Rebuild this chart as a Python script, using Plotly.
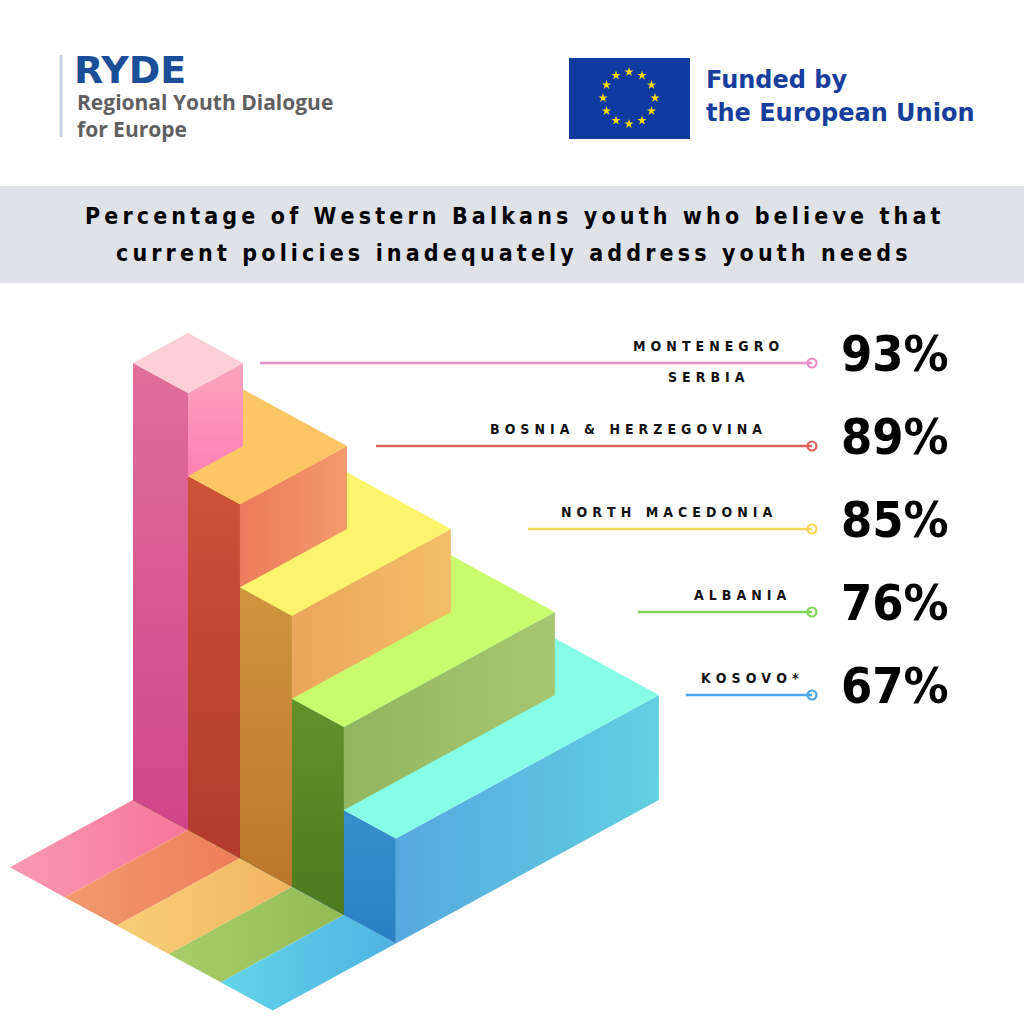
import math
import plotly.graph_objects as go

# survey values
countries = ["Montenegro", "Serbia", "Bosnia & Herzegovina", "North Macedonia", "Albania", "Kosovo*"]
values = [93, 93, 89, 85, 76, 67]

# one bar per distinct value (Montenegro and Serbia share one)
bar_values = [93, 89, 85, 76, 67]
bar_labels = [["MONTENEGRO", "SERBIA"], ["BOSNIA & HERZEGOVINA"], ["NORTH MACEDONIA"], ["ALBANIA"], ["KOSOVO*"]]

title_lines = ["Percentage of Western Balkans youth who believe that",
               "current policies inadequately address youth needs"]

# styles per bar: top, left face (top->bottom), right face (start->end), floor strip, leader line
TOP = ["#fdd0d7", "#fcc664", "#fdf46d", "#c8fc6c", "#86fee6"]
LEFT = [("#df6f99", "#d2448a"), ("#cf5436", "#b43a2e"), ("#d39a42", "#bd762d"),
        ("#6c9c31", "#4c7a1d"), ("#40a0d6", "#2a7fc2")]
RIGHT = [("#fea4be", "#fb80b3"), ("#ec7b5c", "#f39a6a"), ("#eca55c", "#f3be67"),
         ("#91b65f", "#a6c76f"), ("#56a8e0", "#62cfe1")]
FLOOR = [("#f99ab4", "#f6759b"), ("#f29a6e", "#ee7e58"), ("#f7cf78", "#f2b462"),
         ("#a9cc68", "#92bb56"), ("#63d4e8", "#4fb3e4")]
LINE = ["#ec8fc8", "#e0605c", "#f8d65c", "#7fd45a", "#4aa6ea"]

COND = "Liberation Sans Narrow, DejaVu Sans Condensed, sans-serif"

# isometric projection (pixels)
OX, FY, DX, DY = 133, 800, 55, 30
SIZE0, SIZE_STEP = 1.0, 0.945
H0, H_STEP = 105, 83
FLOOR_DEPTH = 2.24
LEADER_GAP = [17, 29, 77, 83, 27]
LINE_END = 812
LABEL_X = [706, 626, 666, 740, 750]
PCT_X = 895


def iso(X, Y, z):
    return OX + DX * (X + Y), FY + DY * (X - Y) - z


def spaced(s, gap="\u2009"):
    return gap.join(s)


fig = go.Figure()


def poly(pts, c0, c1, kind="vertical"):
    xs, ys = zip(*[iso(*p) for p in pts])
    xs, ys = list(xs) + [xs[0]], list(ys) + [ys[0]]
    if kind == "vertical":
        start, stop = min(ys), max(ys)
    else:
        start, stop = min(xs), max(xs)
    fig.add_trace(go.Scatter(
        x=xs, y=ys, mode="lines", line=dict(width=0), fill="toself",
        fillgradient=dict(type=kind, colorscale=[[0, c0], [1, c1]], start=start, stop=stop),
        hoverinfo="skip", showlegend=False))


n = len(bar_values)
sizes = [SIZE0 + SIZE_STEP * r for r in range(n)]
heights = [H0 + H_STEP * (n - 1 - r) for r in range(n)]

# floor strips
for r in range(n):
    x0 = sizes[r - 1] if r > 0 else 0
    x1 = sizes[r]
    poly([(x0, 0, 0), (x1, 0, 0), (x1, -FLOOR_DEPTH, 0), (x0, -FLOOR_DEPTH, 0)],
         FLOOR[r][0], FLOOR[r][1], "horizontal")

# boxes, biggest first so smaller/taller ones paint over
for r in reversed(range(n)):
    s, h = sizes[r], heights[r]
    h_next = heights[r + 1] if r + 1 < n else 0
    poly([(0, 0, 0), (s, 0, 0), (s, 0, h), (0, 0, h)], LEFT[r][0], LEFT[r][1], "vertical")
    poly([(s, 0, h_next), (s, s, h_next), (s, s, h), (s, 0, h)],
         RIGHT[r][0], RIGHT[r][1], "vertical" if r == 0 else "horizontal")
    poly([(0, 0, h), (s, 0, h), (s, s, h), (0, s, h)], TOP[r], TOP[r], "vertical")

annotations = []
# leader lines, labels, percentages
for r in range(n):
    cx, cy = iso(sizes[r], sizes[r], heights[r])
    fig.add_trace(go.Scatter(
        x=[cx + LEADER_GAP[r], LINE_END], y=[cy, cy], mode="lines",
        line=dict(color=LINE[r], width=2.5), hoverinfo="skip", showlegend=False))
    fig.add_trace(go.Scatter(
        x=[LINE_END], y=[cy], mode="markers",
        marker=dict(symbol="circle-open", size=9, color=LINE[r], line=dict(width=2.2)),
        hoverinfo="skip", showlegend=False))
    labs = bar_labels[r]
    lab_font = dict(size=14, family=COND, color="#111", weight="bold")
    annotations.append(dict(x=LABEL_X[r], y=cy - 17, text=spaced(labs[0], "\u2009\u2009"), font=lab_font))
    for extra in labs[1:]:
        annotations.append(dict(x=LABEL_X[r], y=cy + 14, text=spaced(extra, "\u2009\u2009"), font=lab_font))
    annotations.append(dict(x=PCT_X, y=cy - 9, text=f"{bar_values[r]}%",
                            font=dict(size=50, family=COND, color="#000", weight="bold")))

# title band
for k, line in enumerate(title_lines):
    annotations.append(dict(x=512, y=216 + 37 * k, text=spaced(line),
                            font=dict(size=23, family=COND, color="#000", weight="bold")))

# logos
annotations += [
    dict(x=72, y=70, text="RYDE", xanchor="left",
         font=dict(size=38, family="DejaVu Sans", color="#1a4e98", weight="bold")),
    dict(x=75, y=115, text="Regional Youth Dialogue<br>for Europe", xanchor="left", align="left",
         font=dict(size=21, family="Open Sans", color="#5f5f61", weight="bold")),
    dict(x=704, y=80, text="Funded by", xanchor="left",
         font=dict(size=24, family="DejaVu Sans", color="#173e9c", weight="bold")),
    dict(x=704, y=113, text="the European Union", xanchor="left",
         font=dict(size=24, family="DejaVu Sans", color="#173e9c", weight="bold")),
]
for a in annotations:
    a.update(xref="x", yref="y", showarrow=False)
    a.setdefault("xanchor", "center")
    a.setdefault("yanchor", "middle")

# EU stars
star_x = [629 + 26 * math.cos(math.radians(90 - 30 * k)) for k in range(12)]
star_y = [98 - 26 * math.sin(math.radians(90 - 30 * k)) for k in range(12)]
fig.add_trace(go.Scatter(x=star_x, y=star_y, mode="markers",
                         marker=dict(symbol="star", size=7, color="#ffdd00", line=dict(width=0)),
                         hoverinfo="skip", showlegend=False))

shapes = [
    dict(type="rect", x0=0, x1=1024, y0=186, y1=283, fillcolor="#dfe3e8", line=dict(width=0), layer="below"),
    dict(type="rect", x0=569, x1=690, y0=58, y1=139, fillcolor="#0f3aa0", line=dict(width=0), layer="below"),
    dict(type="line", x0=61, x1=61, y0=55, y1=137, line=dict(color="#c5d2e3", width=3)),
]
for sh in shapes:
    sh.update(xref="x", yref="y")

fig.update_layout(
    width=1024, height=1024, margin=dict(l=0, r=0, t=0, b=0),
    paper_bgcolor="white", plot_bgcolor="white",
    xaxis=dict(range=[0, 1024], visible=False, fixedrange=True),
    yaxis=dict(range=[1024, 0], visible=False, fixedrange=True),
    annotations=annotations, shapes=shapes,
)

fig.write_html("out.html", config={"displayModeBar": False},
               post_script="document.body.style.margin='0';")
